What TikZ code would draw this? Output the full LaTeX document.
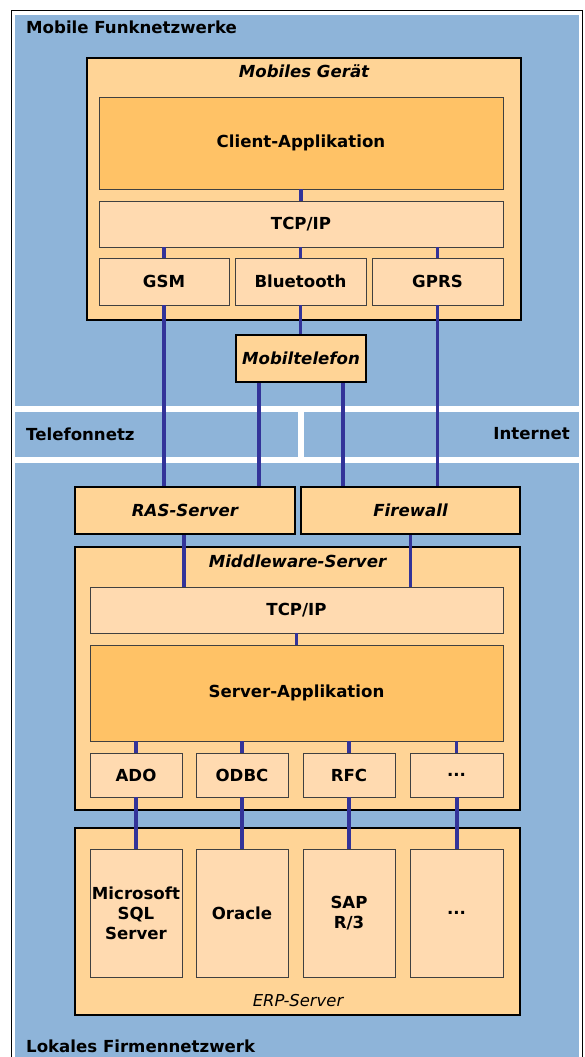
\documentclass[tikz,border=0pt]{standalone}
\usepackage{fontspec}
\setmainfont{DejaVu Sans}
\usetikzlibrary{calc}
\definecolor{bgblue}{RGB}{142,180,217}
\definecolor{lorange}{RGB}{255,212,150}
\definecolor{dorange}{RGB}{255,194,102}
\definecolor{peach}{RGB}{255,218,176}
\definecolor{linkblue}{RGB}{51,51,153}
\definecolor{thinborder}{RGB}{64,64,64}
\tikzset{
  lbl/.style={font=\fontsize{16.6}{19}\selectfont\bfseries, inner sep=0pt},
  thickbox/.style={draw=black, line width=2.2pt, fill=lorange, inner sep=0pt, font=\fontsize{16.6}{19}\selectfont\bfseries\itshape},
  peachbox/.style={draw=thinborder, line width=0.9pt, fill=peach, inner sep=0pt, align=center, font=\fontsize{16.6}{20}\selectfont\bfseries},
  appbox/.style={draw=thinborder, line width=0.9pt, fill=dorange, inner sep=0pt, font=\fontsize{16.6}{19}\selectfont\bfseries},
  link/.style={draw=linkblue, line width=3.2pt},
  dblink/.style={draw=linkblue, line width=4pt},
  ttl/.style={inner sep=0pt, font=\fontsize{16.6}{19}\selectfont\bfseries\itshape},
}
\begin{document}
\begin{tikzpicture}[x=1pt,y=-1pt]
\useasboundingbox (0,0) rectangle (584,1057);
\fill[white] (0,0) rectangle (584,1057);
% outer frame
\draw[black, line width=1pt] (11.5,10.5) -- (582,10.5) -- (582,1060) (11.5,10.5) -- (11.5,1060);
% blue regions
\fill[bgblue] (15,15) rectangle (579,406);
\fill[bgblue] (15,412) rectangle (298,457);
\fill[bgblue] (304,412) rectangle (579,457);
\fill[bgblue] (15,463) rectangle (579,1060);
% region labels
\node[lbl, anchor=west] (funk) at (26,27) {Mobile Funknetzwerke};
\node[lbl, anchor=west] (tel) at (26,434) {Telefonnetz};
\node[lbl, anchor=east] (inet) at (570,434) {Internet};
\node[lbl, anchor=west] (lokal) at (26,1046) {Lokales Firmennetzwerk};

% Mobiles Geraet
\node[thickbox, minimum width=434pt, minimum height=262pt] (mg) at (304,189) {};
\node[ttl] (mgt) at (304,71) {Mobiles Gerät};
\node[appbox, minimum width=404pt, minimum height=92pt] (client) at (301,143) {Client-Applikation};
\node[peachbox, minimum width=404pt, minimum height=46pt] (tcp1) at (301,224) {TCP/IP};
\node[peachbox, minimum width=130pt, minimum height=47pt] (gsm) at (164,281.5) {GSM};
\node[peachbox, minimum width=131pt, minimum height=47pt] (bt) at (300.5,281.5) {Bluetooth};
\node[peachbox, minimum width=131pt, minimum height=47pt] (gprs) at (437.5,281.5) {GPRS};

% Mobiltelefon
\node[thickbox, minimum width=130pt, minimum height=47pt] (mob) at (301,358.5) {Mobiltelefon};

% RAS and Firewall
\node[thickbox, minimum width=220pt, minimum height=47pt] (ras) at (185,510.5) {RAS-Server};
\node[thickbox, minimum width=219pt, minimum height=47pt] (fw) at (410.5,510.5) {Firewall};

% Middleware
\node[thickbox, minimum width=445pt, minimum height=263pt] (mw) at (297.5,678.5) {};
\node[ttl] (mwt) at (297.5,561) {Middleware-Server};
\node[peachbox, minimum width=413pt, minimum height=46pt] (tcp2) at (296.5,610) {TCP/IP};
\node[appbox, minimum width=413pt, minimum height=96pt] (sapp) at (296.5,693) {Server-Applikation};
\node[peachbox, minimum width=92pt, minimum height=44pt] (ado) at (136,775) {ADO};
\node[peachbox, minimum width=92pt, minimum height=44pt] (odbc) at (242,775) {ODBC};
\node[peachbox, minimum width=92pt, minimum height=44pt] (rfc) at (349,775) {RFC};
\node[peachbox, minimum width=93pt, minimum height=44pt] (etc1) at (456.5,775) {...};

% ERP
\node[thickbox, minimum width=445pt, minimum height=187pt] (erp) at (297.5,921.5) {};
\node[peachbox, minimum width=92pt, minimum height=128pt] (mssql) at (136,913) {Microsoft\\SQL\\Server};
\node[peachbox, minimum width=92pt, minimum height=128pt] (ora) at (242,913) {Oracle};
\node[peachbox, minimum width=92pt, minimum height=128pt] (sap) at (349,913) {SAP\\R/3};
\node[peachbox, minimum width=93pt, minimum height=128pt] (etc2) at (456.5,913) {...};
\node[inner sep=0pt, font=\fontsize{16.4}{19}\selectfont\itshape] (erpt) at (298,1001) {ERP-Server};

% links
\draw[link] (client.south) -- (client.south |- tcp1.north);
\draw[link] (gsm.north) -- (gsm.north |- tcp1.south);
\draw[link] (bt.north) -- (bt.north |- tcp1.south);
\draw[link] (gprs.north) -- (gprs.north |- tcp1.south);
\draw[link] (gsm.south) -- (gsm.south |- ras.north);
\draw[link] (bt.south) -- (bt.south |- mob.north);
\draw[link] (gprs.south) -- (gprs.south |- fw.north);
\coordinate (m1) at ([xshift=-42pt]mob.south);
\coordinate (m2) at ([xshift=42pt]mob.south);
\draw[link] (m1) -- (m1 |- ras.north);
\draw[link] (m2) -- (m2 |- fw.north);
\coordinate (r1) at ([xshift=-1pt]ras.south);
\draw[link] (r1) -- (r1 |- tcp2.north);
\draw[link] (fw.south) -- (fw.south |- tcp2.north);
\draw[link] (tcp2.south) -- (tcp2.south |- sapp.north);
\foreach \a/\b in {ado/mssql, odbc/ora, rfc/sap, etc1/etc2}{
  \draw[link] (\a.north) -- (\a.north |- sapp.south);
  \draw[dblink] (\a.south) -- (\b.north);
}
\end{tikzpicture}
\end{document}
